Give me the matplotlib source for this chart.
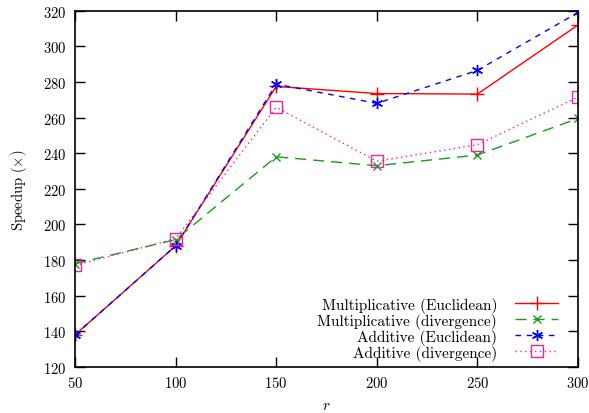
import matplotlib
matplotlib.use("Agg")
import matplotlib.pyplot as plt

plt.rcParams["font.family"] = ["cmr10", "DejaVu Serif"]
plt.rcParams["mathtext.fontset"] = "cm"
plt.rcParams["axes.formatter.use_mathtext"] = True

r_values = [50, 100, 150, 200, 250, 300]
mult_euclid = [138, 188, 277.5, 273.5, 273.2, 312]
mult_diverg = [178, 191.5, 238, 233, 239, 259.5]
add_euclid = [138, 188, 278.8, 268, 286.5, 319]
add_diverg = [177, 192, 265.8, 235.5, 244.8, 271.5]

labels = [
    "Multiplicative (Euclidean)",
    "Multiplicative (divergence)",
    "Additive (Euclidean)",
    "Additive (divergence)",
]
y_ticks = list(range(120, 321, 20))
x_ticks = r_values

fig = plt.figure(figsize=(5.89, 4.14), dpi=100)
ax = fig.add_axes([0.1273, 0.1111, 0.8540, 0.8606])

ax.plot(r_values, mult_euclid, color="#ff0000", lw=1.0, ls="-",
        marker="+", ms=10, mew=1.0, label=labels[0])
ax.plot(r_values, mult_diverg, color="#1a9a1a", lw=1.0, ls=(0, (8, 5)),
        marker="x", ms=6, mew=1.0, label=labels[1])
ax.plot(r_values, add_euclid, color="#0000ff", lw=1.0, ls=(0, (4, 4)),
        marker=(6, 2, 0), ms=8, mew=1.0, label=labels[2])
ax.plot(r_values, add_diverg, color="#f0229c", lw=1.0, ls=(0, (1, 2.5)),
        marker="s", ms=8, mew=1.0, mfc="none", label=labels[3])

ax.set_xlim(50, 300)
ax.set_ylim(120, 320)
ax.set_xticks(x_ticks)
ax.set_yticks(y_ticks)
ax.tick_params(direction="in", length=7, width=1.0, top=True, right=True,
               labelsize=10.5, pad=6)
for s in ax.spines.values():
    s.set_linewidth(1.2)

ax.set_xlabel("$r$", fontsize=11, labelpad=6)
ax.set_ylabel(r"Speedup ($\times$)", fontsize=10.5, labelpad=10)

leg = ax.legend(loc="lower right", bbox_to_anchor=(0.982, -0.012), frameon=False,
                markerfirst=False, fontsize=11, handlelength=2.8,
                handletextpad=1.2, labelspacing=0.0, borderaxespad=0.3)

fig.savefig("out.png", dpi=100)
